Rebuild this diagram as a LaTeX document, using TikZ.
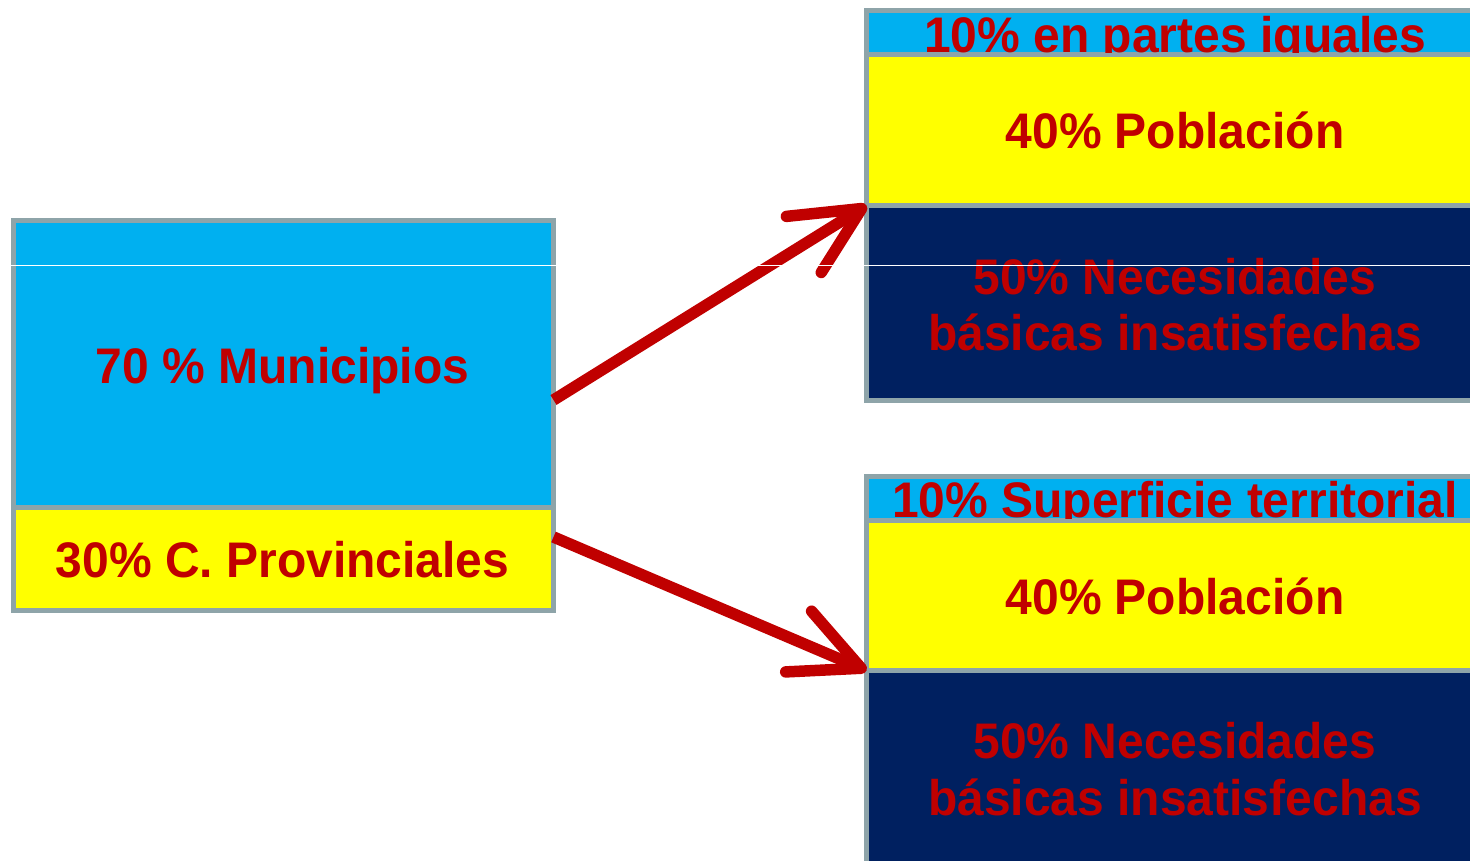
\documentclass[tikz,border=0pt]{standalone}
\usepackage{fontspec}
\setmainfont{Liberation Sans}[BoldFeatures={FakeStretch=0.96}]
\usetikzlibrary{arrows.meta}
\definecolor{cellgray}{HTML}{8EA4A9}
\definecolor{cellblue}{HTML}{00B0F0}
\definecolor{cellyellow}{HTML}{FFFF00}
\definecolor{cellnavy}{HTML}{002060}
\definecolor{txtred}{HTML}{C00000}
\begin{document}
\begin{tikzpicture}[x=1pt,y=-1pt,
  cell/.style={draw=cellgray, line width=5pt, rectangle, anchor=north west, inner sep=0pt, outer sep=0pt},
  lbl/.style={text=txtred, font=\bfseries\fontsize{50}{56}\selectfont, inner sep=0pt, anchor=base},
  arr/.style={draw=txtred, line width=11.5pt, -{Straight Barb[round, length=68pt, width=66pt]}}
]
\useasboundingbox (0,0) rectangle (1470,861);
\clip (0,0) rectangle (1470,861);

% left block
\node[cell, fill=cellblue, minimum width=540.5pt, minimum height=286pt] (muni) at (13,221) {};
\node[cell, fill=cellyellow, minimum width=540.5pt, minimum height=103.5pt] (prov) at (13,507) {};

% top right block
\node[cell, fill=cellblue, minimum width=617.5pt, minimum height=44.5pt] (hdr1) at (866.5,10.5) {};
\node[cell, fill=cellyellow, minimum width=617.5pt, minimum height=150.5pt] (pob1) at (866.5,55) {};
\node[cell, fill=cellnavy, minimum width=617.5pt, minimum height=195pt] (nbi1) at (866.5,205.5) {};

% bottom right block
\node[cell, fill=cellblue, minimum width=617.5pt, minimum height=44.5pt] (hdr2) at (866.5,476) {};
\node[cell, fill=cellyellow, minimum width=617.5pt, minimum height=150pt] (pob2) at (866.5,520.5) {};
\node[cell, fill=cellnavy, minimum width=617.5pt, minimum height=250pt] (nbi2) at (866.5,670.5) {};

% texts
\node[lbl] (tmuni) at (282.5,383) {70 \% Municipios};
\node[lbl] (tprov) at (282.5,577) {30\% C. Provinciales};

\begin{scope}
  \clip ([xshift=2.5pt,yshift=-2.5pt]hdr1.north west) rectangle ([xshift=-2.5pt,yshift=2.5pt]hdr1.south east);
  \node[lbl] (thdr1) at (1175,52.5) {10\% en partes iquales};
\end{scope}
\node[lbl] (tpob1) at (1175,149) {40\% Población};
\node[lbl] (tnbi1a) at (1175,294) {50\% Necesidades};
\node[lbl] (tnbi1b) at (1175,350) {básicas insatisfechas};

\begin{scope}
  \clip ([xshift=2.5pt,yshift=-2.5pt]hdr2.north west) rectangle ([xshift=-2.5pt,yshift=2.5pt]hdr2.south east);
  \node[lbl] (thdr2) at (1175,517.5) {10\% Superficie territorial};
\end{scope}
\node[lbl] (tpob2) at (1175,614) {40\% Población};
\node[lbl] (tnbi2a) at (1175,758) {50\% Necesidades};
\node[lbl] (tnbi2b) at (1175,815) {básicas insatisfechas};

% arrows
\draw[arr] ([yshift=-36pt]muni.east) -- (nbi1.north west);
\draw[arr] ([yshift=21.75pt]prov.east) -- (nbi2.north west);

% thin white scan line
\draw[white, line width=1pt] (0,265) -- (1470,265);
\end{tikzpicture}
\end{document}
